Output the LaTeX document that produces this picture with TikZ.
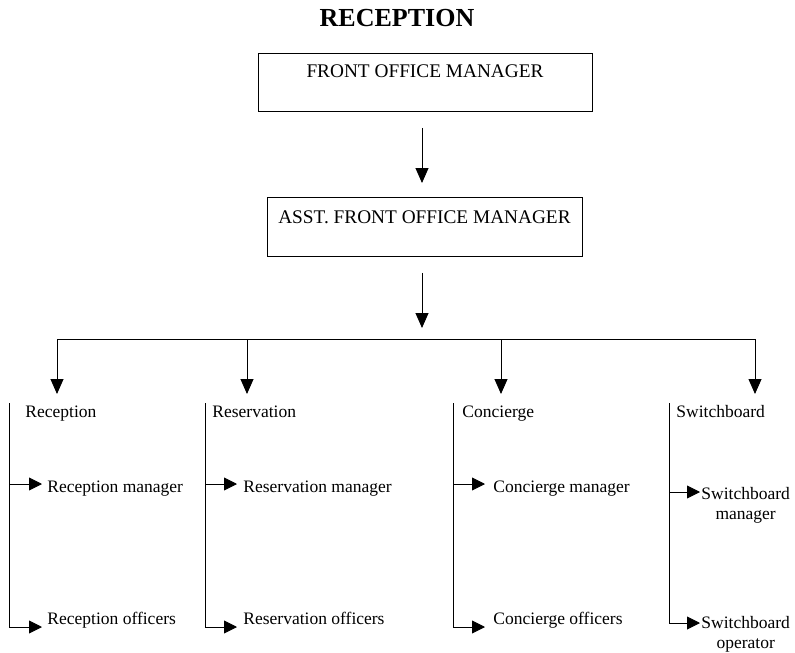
\documentclass[tikz,border=0pt]{standalone}
\usepackage{fontspec}
\setmainfont{Liberation Serif}
\usetikzlibrary{arrows.meta}

\begin{document}
\begin{tikzpicture}[x=1pt,y=-1pt,line width=0.9pt,
        down/.style={-{Triangle[length=15pt,width=13pt]}},
        tick/.style={-{Triangle[length=13pt,width=13pt]}},
        box/.style={draw,inner xsep=0pt,inner ysep=0pt,anchor=north,
            font=\fontsize{19.3}{22}\selectfont},
        cat/.style={anchor=base west,inner sep=0pt,
            font=\fontsize{17.5}{20}\selectfont},
        role/.style={anchor=base west,inner sep=0pt,align=center,
            font=\fontsize{17.5}{20.5}\selectfont}]
        \useasboundingbox (0,0) rectangle (795,653);

        % Title
        \node[anchor=base,font=\bfseries\fontsize{26}{30}\selectfont] (title) at (397,26) {RECEPTION};

        % Managers
        \node[box,minimum width=334pt,text height=24pt,text depth=34pt] (fom) at (425,53) {FRONT OFFICE MANAGER};
        \node[box,minimum width=315pt,text height=26pt,text depth=33pt] (afom) at (424.5,197) {ASST. FRONT OFFICE MANAGER};

        % Arrows down to the bus
        \coordinate (hub) at (422,339);
        \draw[down,shorten <=16pt,shorten >=14pt] (fom.south -| hub) -- (afom.north -| hub);
        \draw[down,shorten <=16pt,shorten >=11pt] (afom.south -| hub) -- (hub);

        % Bus and branches
        \coordinate (b1) at (57,339);
        \coordinate (b2) at (247,339);
        \coordinate (b3) at (501,339);
        \coordinate (b4) at (755,339);
        \coordinate (tips) at (0,394);
        \draw[line cap=rect] (b1) -- (b4);
        \foreach \b in {b1,b2,b3,b4}
            \draw[down] (\b) -- (\b |- tips);

        % Departments
        \node[cat] (rec) at (25,417) {Reception};
        \node[cat] (res) at (212,417) {Reservation};
        \node[cat] (con) at (462,417) {Concierge};
        \node[cat] (swb) at (676,417) {Switchboard};

        % Staff under each department
        \node[role] (recm) at (47,492) {Reception manager};
        \node[role] (reco) at (47,624) {Reception officers};
        \node[role] (resm) at (243,492) {Reservation manager};
        \node[role] (reso) at (243,624) {Reservation officers};
        \node[role] (conm) at (493,492) {Concierge manager};
        \node[role] (cono) at (493,624) {Concierge officers};
        \node[role] (swbm) at (701,519.5) {Switchboard\\manager};
        \node[role] (swbo) at (701,648.5) {Switchboard\\operator};

        % Brackets with small arrows
        \coordinate (v1) at (9,403);
        \coordinate (v2) at (205,403);
        \coordinate (v3) at (453,403);
        \coordinate (v4) at (669,403);

        \draw[tick,shorten >=5pt] (v1 |- 0,484) -- (recm.west |- 0,484);
        \draw[tick,shorten >=5pt] (v1) -- (v1 |- 0,627) -- (reco.west |- 0,627);
        \draw[tick,shorten >=6pt] (v2 |- 0,484) -- (resm.west |- 0,484);
        \draw[tick,shorten >=6pt] (v2) -- (v2 |- 0,627) -- (reso.west |- 0,627);
        \draw[tick,shorten >=8pt] (v3 |- 0,484) -- (conm.west |- 0,484);
        \draw[tick,shorten >=8pt] (v3) -- (v3 |- 0,627) -- (cono.west |- 0,627);
        \draw[tick,shorten >=1pt] (v4 |- 0,492) -- (swbm.west |- 0,492);
        \draw[tick,shorten >=1pt] (v4) -- (v4 |- 0,623) -- (swbo.west |- 0,623);
\end{tikzpicture}
\end{document}
